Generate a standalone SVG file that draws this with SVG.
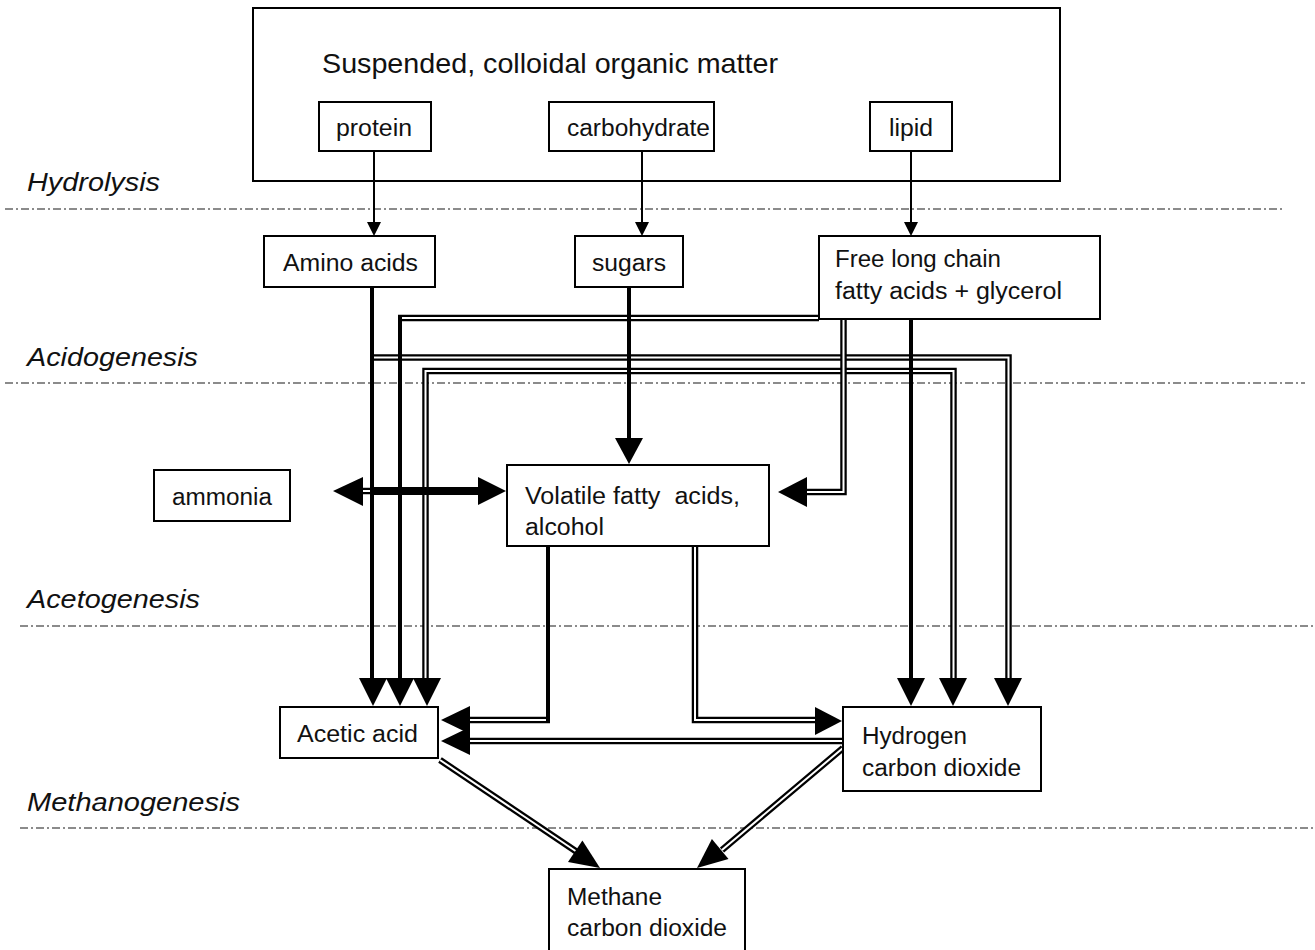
<svg xmlns="http://www.w3.org/2000/svg" width="1315" height="950" viewBox="0 0 1315 950">
<style>
.box{fill:#fff;stroke:#000;stroke-width:2}
.t{font-family:"Liberation Sans Narrow","Liberation Sans",Arial,sans-serif;font-size:23.5px;fill:#111}
.ttl{font-size:28.5px}
.ph{font-family:"Liberation Sans Narrow","Liberation Sans",Arial,sans-serif;font-size:26px;font-style:italic;fill:#111}
.dash{stroke:#666;stroke-width:1.5;stroke-dasharray:8 3 2 3;fill:none}
.thin{stroke:#000;stroke-width:2;fill:none}
.thick{stroke:#000;stroke-width:4;fill:none}
.dbo{stroke:#000;stroke-width:6.5;fill:none;stroke-linejoin:miter}
.dbi{stroke:#fff;stroke-width:2;fill:none;stroke-linejoin:miter}
.hd{fill:#000}
</style>
<rect width="1315" height="950" fill="#fff"/>

<g id="phases">
<line class="dash" x1="5" y1="209" x2="1285" y2="209"/>
<line class="dash" x1="5" y1="383" x2="1305" y2="383"/>
<line class="dash" x1="20" y1="626" x2="1315" y2="626"/>
<line class="dash" x1="20" y1="828" x2="1315" y2="828"/>
<text class="ph" x="27" y="191" textLength="133" lengthAdjust="spacingAndGlyphs">Hydrolysis</text>
<text class="ph" x="27" y="366" textLength="171" lengthAdjust="spacingAndGlyphs">Acidogenesis</text>
<text class="ph" x="27" y="608" textLength="173" lengthAdjust="spacingAndGlyphs">Acetogenesis</text>
<text class="ph" x="27" y="811" textLength="213" lengthAdjust="spacingAndGlyphs">Methanogenesis</text>
</g>

<g id="organic-matter">
<rect class="box" x="253" y="8" width="807" height="173"/>
<text class="t ttl" x="322" y="73" textLength="456" lengthAdjust="spacingAndGlyphs">Suspended, colloidal organic matter</text>
</g>
<g id="protein">
<rect class="box" x="319" y="102" width="112" height="49"/>
<text class="t" x="336" y="136" textLength="76" lengthAdjust="spacingAndGlyphs">protein</text>
</g>
<g id="carbohydrate">
<rect class="box" x="549" y="102" width="165" height="49"/>
<text class="t" x="567" y="136" textLength="143" lengthAdjust="spacingAndGlyphs">carbohydrate</text>
</g>
<g id="lipid">
<rect class="box" x="870" y="102" width="82" height="49"/>
<text class="t" x="889" y="136" textLength="44" lengthAdjust="spacingAndGlyphs">lipid</text>
</g>

<g id="connectors">
<path class="thin" d="M374 151V226M642 151V226M911 151V226"/>
<path class="hd" d="M367 222H381L374 236ZM635 222H649L642 236ZM904 222H918L911 236Z"/>

<path class="dbo" d="M819 318H398"/>
<path class="dbi" d="M819 318H398"/>
<path class="dbo" d="M372 357.5H1008.5V680"/>
<path class="dbi" d="M372 357.5H1008.5V680"/>
<path class="dbo" d="M425.5 680V371H953.5V680"/>
<path class="dbi" d="M425.5 680V371H953.5V680"/>
<path class="dbo" d="M843.5 319V492H806"/>
<path class="dbi" d="M843.5 319V492H806"/>
<path class="dbo" d="M550 720H468"/>
<path class="dbi" d="M550 720H468"/>
<path class="dbo" d="M695 546V720H816"/>
<path class="dbi" d="M695 546V720H816"/>
<path class="dbo" d="M843 741H468"/>
<path class="dbi" d="M843 741H468"/>
<path class="dbo" d="M362 491H376"/>
<path class="dbi" d="M362 491H376"/>
<path class="dbo" d="M440 760L577 852"/>
<path class="dbi" d="M440 760L577 852"/>
<path class="dbo" d="M843 748L722 850"/>
<path class="dbi" d="M843 748L722 850"/>

<path class="thick" d="M372 287V680M400 316V680M629 287V440M911 319V680M548 546V723"/>
<path stroke="#000" stroke-width="8" fill="none" d="M372 491H482"/>

<path class="hd" d="M359 678H387L373 706Z M386 678H414L400 706Z M413 678H441L427 706Z"/>
<path class="hd" d="M897 678H925L911 706Z M939 678H967L953 706Z M994 678H1022L1008 706Z"/>
<path class="hd" d="M615 438H643L629 464Z"/>
<path class="hd" d="M807 477V507L778 492Z"/>
<path class="hd" d="M815 707V735L842 721Z"/>
<path class="hd" d="M470 706V734L441 720Z"/>
<path class="hd" d="M470 727V755L441 741Z"/>
<path class="hd" d="M363 477V506L333 491Z"/>
<path class="hd" d="M478 477V505L506 491Z"/>
<path class="hd" d="M600 868L568 862L582.4 840.4Z"/>
<path class="hd" d="M697 868L711.9 839L728.5 859Z"/>
</g>

<g id="amino-acids">
<rect class="box" x="264" y="236" width="171" height="51"/>
<text class="t" x="283" y="271" textLength="135" lengthAdjust="spacingAndGlyphs">Amino acids</text>
</g>
<g id="sugars">
<rect class="box" x="575" y="236" width="108" height="51"/>
<text class="t" x="592" y="271" textLength="74" lengthAdjust="spacingAndGlyphs">sugars</text>
</g>
<g id="fatty-acids">
<rect class="box" x="819" y="236" width="281" height="83"/>
<text class="t" x="835" y="267" textLength="166" lengthAdjust="spacingAndGlyphs">Free long chain</text>
<text class="t" x="835" y="299" textLength="227" lengthAdjust="spacingAndGlyphs">fatty acids + glycerol</text>
</g>
<g id="ammonia">
<rect class="box" x="154" y="470" width="136" height="51"/>
<text class="t" x="172" y="505" textLength="100" lengthAdjust="spacingAndGlyphs">ammonia</text>
</g>
<g id="volatile">
<rect class="box" x="507" y="465" width="262" height="81"/>
<text class="t" x="525" y="504" textLength="215" lengthAdjust="spacingAndGlyphs" xml:space="preserve">Volatile fatty  acids,</text>
<text class="t" x="525" y="535" textLength="79" lengthAdjust="spacingAndGlyphs">alcohol</text>
</g>
<g id="acetic-acid">
<rect class="box" x="280" y="707" width="158" height="51"/>
<text class="t" x="297" y="742" textLength="121" lengthAdjust="spacingAndGlyphs">Acetic acid</text>
</g>
<g id="hydrogen">
<rect class="box" x="843" y="707" width="198" height="84"/>
<text class="t" x="862" y="744" textLength="105" lengthAdjust="spacingAndGlyphs">Hydrogen</text>
<text class="t" x="862" y="776" textLength="159" lengthAdjust="spacingAndGlyphs">carbon dioxide</text>
</g>
<g id="methane">
<rect class="box" x="549" y="869" width="196" height="90"/>
<text class="t" x="567" y="905" textLength="95" lengthAdjust="spacingAndGlyphs">Methane</text>
<text class="t" x="567" y="936" textLength="160" lengthAdjust="spacingAndGlyphs">carbon dioxide</text>
</g>
</svg>
